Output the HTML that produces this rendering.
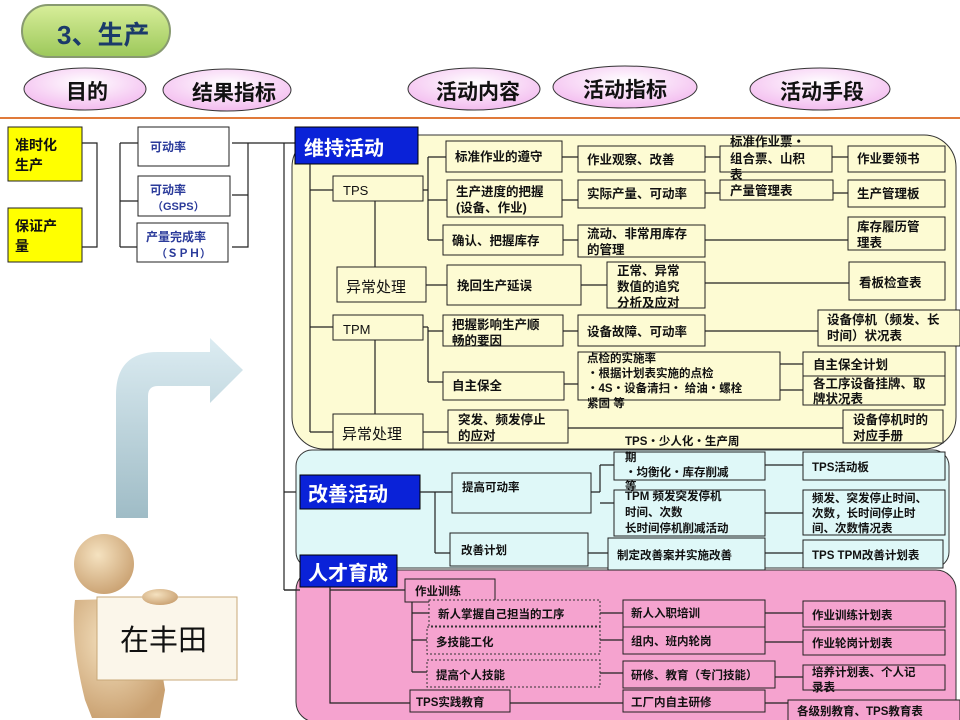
<!DOCTYPE html>
<html><head><meta charset="utf-8"><style>
body{margin:0;background:#fff;}
svg{display:block;font-family:"Liberation Sans","Noto Sans CJK SC",sans-serif;font-weight:bold;}
.b{stroke:#222;stroke-width:1;}
.l{stroke:#222;stroke-width:1.2;fill:none;}
.t{font-size:12.5px;fill:#111;}
.s{font-size:11.5px;fill:#111;}
.d{stroke:#333;stroke-width:1;stroke-dasharray:2 2;fill:#f5a3cf;}
</style></head><body>
<svg width="960" height="720" viewBox="0 0 960 720" xmlns="http://www.w3.org/2000/svg">
<defs>
<linearGradient id="g1" x1="0" y1="0" x2="0" y2="1"><stop offset="0" stop-color="#d8ee9a"/><stop offset="1" stop-color="#9cc85a"/></linearGradient>
<radialGradient id="pk" cx="0.5" cy="0.35" r="0.7"><stop offset="0" stop-color="#fff"/><stop offset="1" stop-color="#f2b6ee"/></radialGradient>
<linearGradient id="ar" x1="0" y1="0" x2="0" y2="1"><stop offset="0" stop-color="#dcecf2"/><stop offset="1" stop-color="#9fbcc6"/></linearGradient>
<radialGradient id="sk" cx="0.4" cy="0.35" r="0.7"><stop offset="0" stop-color="#f5e2c0"/><stop offset="1" stop-color="#c9a070"/></radialGradient>
</defs>
<!-- header -->
<rect x="22" y="5" width="148" height="52" rx="26" fill="url(#g1)" stroke="#889a70" stroke-width="2"/>
<text x="57" y="44" font-size="26" fill="#1b3a6a">3、生产</text>
<ellipse cx="85" cy="89" rx="61" ry="21" fill="url(#pk)" stroke="#333"/>
<text x="66" y="99" font-size="21" fill="#111">目的</text>
<ellipse cx="227" cy="90" rx="64" ry="21" fill="url(#pk)" stroke="#333"/>
<text x="192" y="100" font-size="21" fill="#111">结果指标</text>
<ellipse cx="474" cy="89" rx="66" ry="21" fill="url(#pk)" stroke="#333"/>
<text x="436" y="99" font-size="21" fill="#111">活动内容</text>
<ellipse cx="625" cy="87" rx="72" ry="21" fill="url(#pk)" stroke="#333"/>
<text x="583" y="97" font-size="21" fill="#111">活动指标</text>
<ellipse cx="820" cy="89" rx="70" ry="21" fill="url(#pk)" stroke="#333"/>
<text x="780" y="99" font-size="21" fill="#111">活动手段</text>
<line x1="0" y1="118" x2="960" y2="118" stroke="#e07a3a" stroke-width="2"/>

<!-- left goals -->
<rect class="b" x="8" y="127" width="74" height="54" fill="#ffff00"/>
<text x="15" y="150" font-size="14" fill="#111">准时化</text><text x="15" y="170" font-size="14" fill="#111">生产</text>
<rect class="b" x="8" y="208" width="74" height="54" fill="#ffff00"/>
<text x="15" y="231" font-size="14" fill="#111">保证产</text><text x="15" y="251" font-size="14" fill="#111">量</text>
<path class="l" d="M82 143H97V247H82M120 143V247M120 143H138M120 201H138M120 247H137"/>
<rect class="b" x="138" y="127" width="91" height="39" fill="#fff"/>
<text x="150" y="151" font-size="12" fill="#2a3a9a">可动率</text>
<rect class="b" x="138" y="176" width="92" height="40" fill="#fff"/>
<text x="150" y="194" font-size="12" fill="#2a3a9a">可动率</text><text x="152" y="210" font-size="11" fill="#2a3a9a">（GSPS）</text>
<rect class="b" x="137" y="223" width="91" height="39" fill="#fff"/>
<text x="146" y="241" font-size="12" fill="#2a3a9a">产量完成率</text><text x="156" y="257" font-size="11" fill="#2a3a9a">（ＳＰＨ）</text>
<path class="l" d="M232 143H248V247H232M232 195H248M248 143H295M284 143V590M284 492H300M284 590H300"/>

<!-- arrow + figure -->
<path d="M116 518V395Q116 352 158 352H210V338L243 370L210 403V386H158Q148 386 148 396V518Z" fill="url(#ar)"/>
<circle cx="104" cy="564" r="30" fill="url(#sk)"/>
<path d="M75 600Q70 640 85 700L92 718H160L165 690L150 598Z" fill="url(#sk)"/>
<rect x="97" y="597" width="140" height="83" fill="#fbf6ea" stroke="#c8a878"/>
<ellipse cx="160" cy="597" rx="18" ry="8" fill="url(#sk)"/>
<text x="120" y="650" font-size="29" fill="#111" font-weight="normal">在丰田</text>

<!-- panels -->
<rect x="292" y="135" width="664" height="314" rx="32" fill="#fdfbd3" stroke="#333"/>
<rect x="296" y="450" width="653" height="118" rx="16" fill="#dff8f8" stroke="#333"/>
<rect x="296" y="570" width="660" height="152" rx="20" fill="#f5a3cf" stroke="#333"/>

<rect x="295" y="127" width="123" height="37" fill="#0a22d8" stroke="#000"/>
<text x="304" y="155" font-size="20" fill="#fff">维持活动</text>
<rect x="300" y="475" width="120" height="34" fill="#0a22d8" stroke="#000"/>
<text x="308" y="501" font-size="20" fill="#fff">改善活动</text>
<rect x="300" y="555" width="97" height="32" fill="#0a22d8" stroke="#000"/>
<text x="308" y="580" font-size="20" fill="#fff">人才育成</text>

<!-- maintain section lines -->
<g class="l">
<path d="M310 164V432M310 190H333M310 327H333M310 432H333"/>
<path d="M375 201V267M375 340V414"/>
<path d="M423 190H428M428 157V240M428 157H446M428 200H447M428 240H443"/>
<path d="M562 157H578M705 157H720M832 157H848"/>
<path d="M562 200H578M705 193H720M833 193H848"/>
<path d="M563 240H578M705 240H848"/>
<path d="M426 285H447M581 285H607M705 283H849"/>
<path d="M423 327H428M428 327V382M428 331H443M428 382H443M563 331H578M705 331H818"/>
<path d="M564 384H578M780 364H803M780 390H803"/>
<path d="M423 432H448M568 428H843"/>
</g>
<g fill="#fdfbd3" class="b">
<rect x="333" y="176" width="90" height="25"/>
<rect x="337" y="267" width="89" height="35"/>
<rect x="333" y="315" width="90" height="25"/>
<rect x="333" y="414" width="90" height="35"/>
<rect x="446" y="141" width="116" height="31"/>
<rect x="447" y="180" width="115" height="37"/>
<rect x="443" y="225" width="120" height="30"/>
<rect x="578" y="146" width="127" height="26"/>
<rect x="578" y="180" width="127" height="28"/>
<rect x="578" y="225" width="127" height="32"/>
<rect x="720" y="146" width="112" height="26"/>
<rect x="720" y="180" width="113" height="20"/>
<rect x="848" y="146" width="97" height="26"/>
<rect x="848" y="180" width="97" height="27"/>
<rect x="848" y="217" width="97" height="33"/>
<rect x="447" y="265" width="134" height="40"/>
<rect x="607" y="262" width="98" height="46"/>
<rect x="849" y="262" width="96" height="38"/>
<rect x="443" y="315" width="120" height="31"/>
<rect x="578" y="315" width="127" height="31"/>
<rect x="818" y="310" width="142" height="36"/>
<rect x="443" y="372" width="121" height="28"/>
<rect x="578" y="352" width="202" height="48"/>
<rect x="803" y="352" width="142" height="24"/>
<rect x="803" y="376" width="142" height="29"/>
<rect x="448" y="410" width="120" height="33"/>
<rect x="843" y="410" width="100" height="33"/>
</g>
<g class="t">
<text x="343" y="195" font-weight="normal" font-size="13">TPS</text>
<text x="346" y="292" font-weight="normal" font-size="15">异常处理</text>
<text x="343" y="334" font-weight="normal" font-size="13">TPM</text>
<text x="342" y="439" font-weight="normal" font-size="15">异常处理</text>
<text x="455" y="161">标准作业的遵守</text>
<text x="456" y="196">生产进度的把握</text><text x="456" y="212">(设备、作业)</text>
<text x="452" y="245">确认、把握库存</text>
<text x="587" y="164">作业观察、改善</text>
<text x="587" y="198">实际产量、可动率</text>
<text x="587" y="238">流动、非常用库存</text><text x="587" y="254">的管理</text>
<text x="730" y="146">标准作业票・</text><text x="730" y="163">组合票、山积</text><text x="730" y="179">表</text>
<text x="730" y="195">产量管理表</text>
<text x="857" y="163">作业要领书</text>
<text x="857" y="198">生产管理板</text>
<text x="857" y="231">库存履历管</text><text x="857" y="247">理表</text>
<text x="457" y="290">挽回生产延误</text>
<text x="617" y="275">正常、异常</text><text x="617" y="291">数值的追究</text><text x="617" y="307">分析及应对</text>
<text x="859" y="287">看板检查表</text>
<text x="452" y="329">把握影响生产顺</text><text x="452" y="345">畅的要因</text>
<text x="587" y="336">设备故障、可动率</text>
<text x="827" y="324">设备停机（频发、长</text><text x="827" y="340">时间）状况表</text>
<text x="452" y="390">自主保全</text>
<text class="s" x="587" y="362">点检的实施率</text><text class="s" x="587" y="377">・根据计划表实施的点检</text><text class="s" x="587" y="392">・4S・设备清扫・  给油・螺栓</text><text class="s" x="587" y="407">紧固  等</text>
<text x="813" y="369">自主保全计划</text>
<text x="813" y="388">各工序设备挂牌、取</text><text x="813" y="403">牌状况表</text>
<text x="458" y="424">突发、频发停止</text><text x="458" y="440">的应对</text>
<text x="853" y="424">设备停机时的</text><text x="853" y="440">对应手册</text>
</g>

<!-- improvement -->
<g class="l">
<path d="M420 492H435M435 492V553M435 492H452M435 553H450"/>
<path d="M591 492H600M600 465V492M600 465H614M600 503H614M765 465H803M765 513H803"/>
<path d="M588 553H608M765 553H803"/>
</g>
<g fill="#dff8f8" class="b">
<rect x="452" y="473" width="139" height="40"/>
<rect x="450" y="533" width="138" height="33"/>
<rect x="614" y="452" width="151" height="28"/>
<rect x="614" y="490" width="151" height="46"/>
<rect x="803" y="452" width="142" height="28"/>
<rect x="803" y="490" width="142" height="45"/>
<rect x="608" y="538" width="157" height="32"/>
<rect x="803" y="540" width="140" height="28"/>
</g>
<g class="s">
<text x="462" y="491">提高可动率</text>
<text x="461" y="554">改善计划</text>
<text x="625" y="445">TPS・少人化・生产周</text><text x="625" y="461">期</text><text x="625" y="476">・均衡化・库存削减</text><text x="625" y="490">等</text>
<text x="625" y="500">TPM    频发突发停机</text><text x="625" y="516">时间、次数</text><text x="625" y="532">长时间停机削减活动</text>
<text x="812" y="471">TPS活动板</text>
<text x="812" y="502">频发、突发停止时间、</text><text x="812" y="517">次数，长时间停止时</text><text x="812" y="532">间、次数情况表</text>
<text x="617" y="559">制定改善案并实施改善</text>
<text x="812" y="559">TPS TPM改善计划表</text>
</g>

<!-- talent -->
<g class="l">
<path d="M284 590H300M330 587V703H410M405 590H330"/>
<path d="M412 602V672M412 613H429M412 640H427M412 672H427"/>
<path d="M600 613H623M765 613H803M600 640H623M765 642H803M600 673H623M775 677H803"/>
<path d="M510 703H623M765 703H788"/>
</g>
<g fill="#f5a3cf" class="b">
<rect x="405" y="579" width="90" height="23"/>
<rect x="623" y="600" width="142" height="28"/>
<rect x="623" y="627" width="142" height="27"/>
<rect x="623" y="661" width="152" height="27"/>
<rect x="803" y="601" width="142" height="26"/>
<rect x="803" y="630" width="142" height="25"/>
<rect x="803" y="665" width="142" height="25"/>
<rect x="410" y="690" width="100" height="22"/>
<rect x="623" y="690" width="142" height="22"/>
<rect x="788" y="700" width="172" height="22"/>
</g>
<rect class="d" x="429" y="600" width="171" height="26"/>
<rect class="d" x="427" y="627" width="173" height="27"/>
<rect class="d" x="427" y="660" width="173" height="27"/>
<g class="s">
<text x="415" y="595">作业训练</text>
<text x="438" y="618">新人掌握自己担当的工序</text>
<text x="436" y="646">多技能工化</text>
<text x="436" y="679">提高个人技能</text>
<text x="631" y="617">新人入职培训</text>
<text x="631" y="645">组内、班内轮岗</text>
<text x="631" y="679">研修、教育（专门技能）</text>
<text x="812" y="619">作业训练计划表</text>
<text x="812" y="647">作业轮岗计划表</text>
<text x="812" y="676">培养计划表、个人记</text><text x="812" y="691">录表</text>
<text x="416" y="706">TPS实践教育</text>
<text x="631" y="706">工厂内自主研修</text>
<text x="797" y="715">各级别教育、TPS教育表</text>
</g>
</svg>
</body></html>
